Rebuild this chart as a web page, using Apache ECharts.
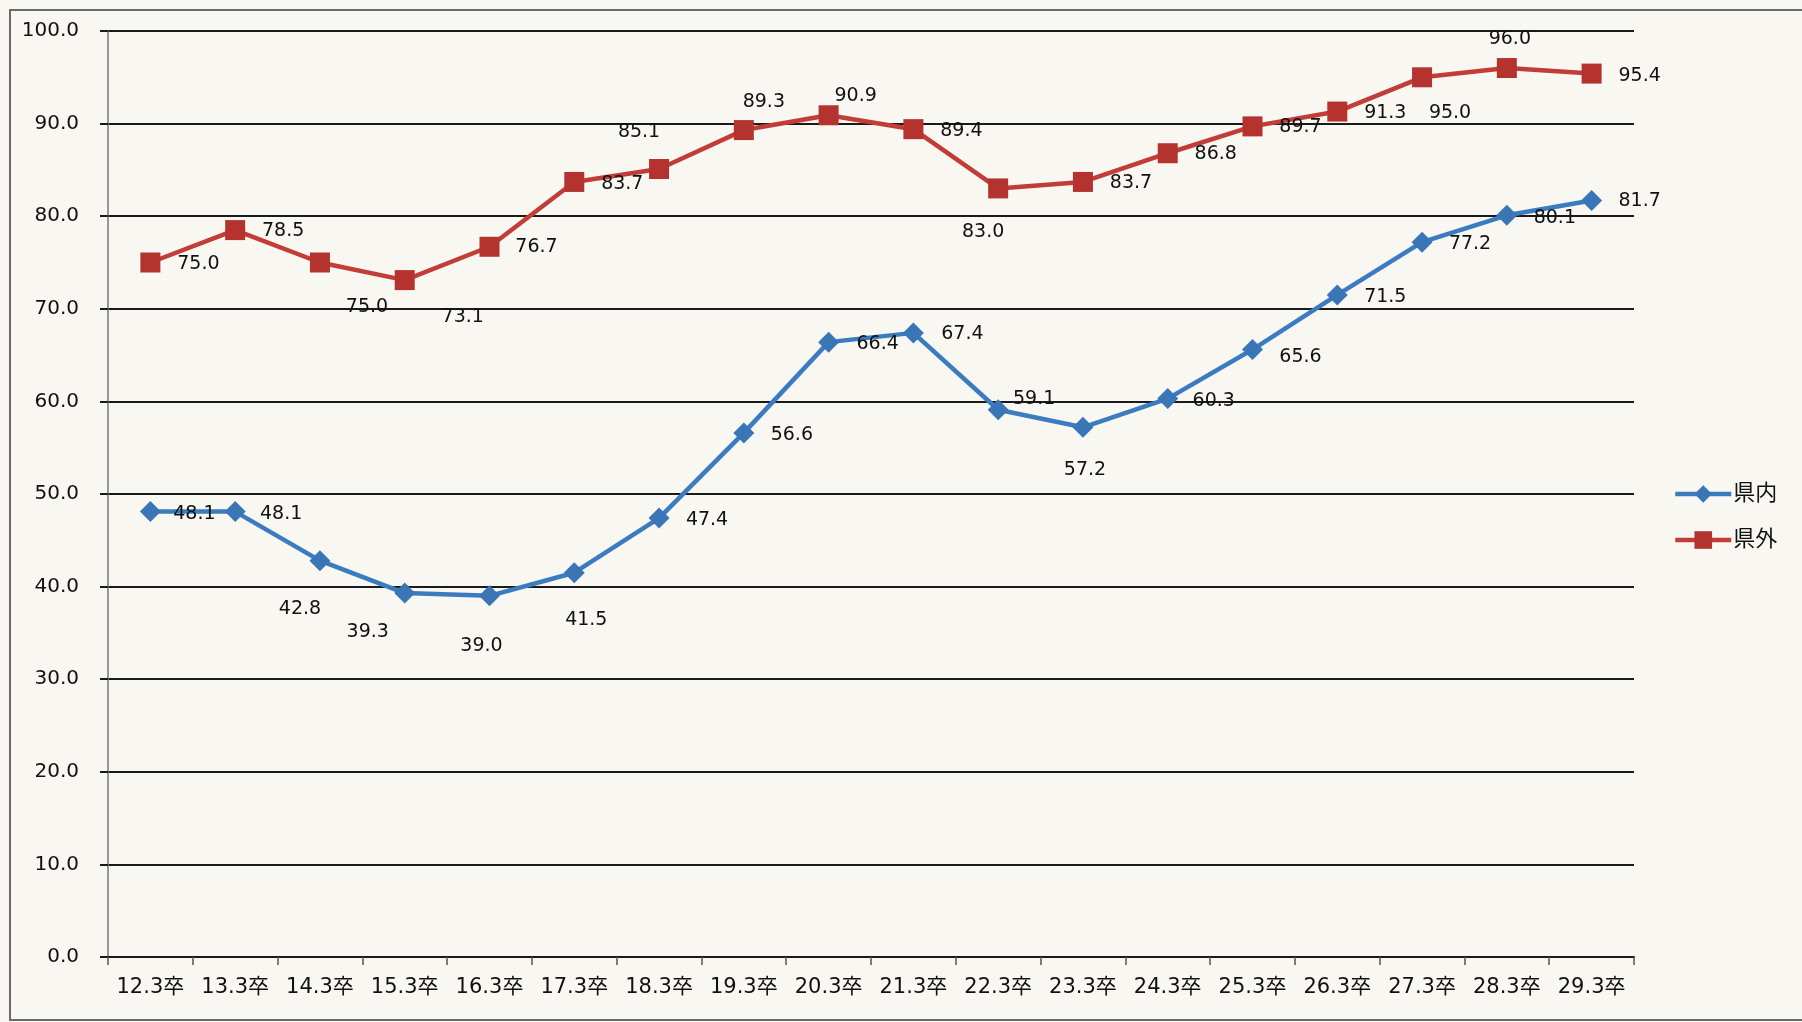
<!DOCTYPE html>
<html>
<head>
<meta charset="utf-8">
<script src="https://cdn.jsdelivr.net/npm/echarts@6/dist/echarts.min.js"></script>
<style>
html,body{margin:0;padding:0;background:#f8f7f2;}
#c{width:1802px;height:1022px;}
</style>
</head>
<body>
<div id="c"></div>
<script>
// ---- data ----
const categories = ['12.3卒','13.3卒','14.3卒','15.3卒','16.3卒','17.3卒','18.3卒','19.3卒','20.3卒','21.3卒','22.3卒','23.3卒','24.3卒','25.3卒','26.3卒','27.3卒','28.3卒','29.3卒'];
const kennai = [48.1, 48.1, 42.8, 39.3, 39.0, 41.5, 47.4, 56.6, 66.4, 67.4, 59.1, 57.2, 60.3, 65.6, 71.5, 77.2, 80.1, 81.7];
const kengai = [75.0, 78.5, 75.0, 73.1, 76.7, 83.7, 85.1, 89.3, 90.9, 89.4, 83.0, 83.7, 86.8, 89.7, 91.3, 95.0, 96.0, 95.4];
const seriesNames = ['県内', '県外'];
const yMin = 0, yMax = 100, yStep = 10;

// ---- label placement (style only) ----
const kennaiLabelOffsets = [[44,2],[46,2],[-20,48],[-37,39],[-8,50],[12,47],[48,2],[48,2],[49,2],[49,1],[36,-11],[2,43],[46,2],[48,8],[48,2],[48,2],[48,3],[48,1]];
const kengaiLabelOffsets = [[48,2],[48,1],[47,45],[58,37],[47,0],[48,2],[-20,-37],[20,-28],[27,-19],[48,2],[-15,44],[48,1],[48,1],[48,1],[48,2],[28,36],[3,-29],[48,2]];

const FONT = '"DejaVu Sans", "Noto Sans CJK JP", sans-serif';
const BLUE = '#3b7bbf';
const BLUE_M = '#3a76b6';
const RED = '#c23d37';
const RED_M = '#b5332e';

function mk(values, offsets) {
  return values.map((v, i) => ({ value: v, label: { offset: offsets[i] } }));
}

const chart = echarts.init(document.getElementById('c'), null, { renderer: 'canvas' });
chart.setOption({
  backgroundColor: '#f8f7f2',
  animation: false,
  graphic: [{
    type: 'rect', silent: true, z: -1,
    shape: { x: 10, y: 10, width: 1900, height: 1010 },
    style: { fill: 'none', stroke: '#6a6a6a', lineWidth: 2 }
  }],
  grid: { left: 108, right: 168, top: 31, bottom: 65, containLabel: false },
  legend: {
    orient: 'vertical',
    left: 1668, top: 478,
    itemWidth: 56, itemHeight: 22, itemGap: 24,
    lineStyle: { width: 4.5 },
    textStyle: { fontFamily: FONT, fontSize: 22, color: '#111', padding: [0,0,0,-3] },
    data: seriesNames
  },
  xAxis: {
    type: 'category',
    data: categories,
    boundaryGap: true,
    axisLine: { lineStyle: { color: '#1a1a1a', width: 2 } },
    axisTick: { show: true, interval: 0, length: 8, inside: false, lineStyle: { color: '#555', width: 1.5 } },
    axisLabel: { interval: 0, fontFamily: FONT, fontSize: 21, color: '#111', margin: 20 },
    splitLine: { show: false }
  },
  yAxis: {
    type: 'value',
    min: yMin, max: yMax, interval: yStep,
    axisLine: { show: true, lineStyle: { color: '#777', width: 1.5 } },
    axisTick: { show: true, length: 8, lineStyle: { color: '#1a1a1a', width: 2 } },
    axisLabel: { fontFamily: FONT, fontSize: 20, color: '#111', margin: 29, formatter: v => v.toFixed(1) },
    splitLine: { show: true, lineStyle: { color: '#1a1a1a', width: 2 } }
  },
  series: [
    {
      name: seriesNames[0], type: 'line',
      data: mk(kennai, kennaiLabelOffsets),
      symbol: 'diamond', symbolSize: 21,
      lineStyle: { color: BLUE, width: 4.5 },
      itemStyle: { color: BLUE_M, borderWidth: 0 },
      label: { show: true, position: 'inside', fontFamily: FONT, fontSize: 19, color: '#111',
               formatter: p => p.value.toFixed(1) },
      z: 3
    },
    {
      name: seriesNames[1], type: 'line',
      data: mk(kengai, kengaiLabelOffsets),
      symbol: 'rect', symbolSize: 20,
      lineStyle: { color: RED, width: 4.5 },
      itemStyle: { color: RED_M, borderWidth: 0 },
      label: { show: true, position: 'inside', fontFamily: FONT, fontSize: 19, color: '#111',
               formatter: p => p.value.toFixed(1) },
      z: 3
    }
  ]
});
</script>
</body>
</html>
